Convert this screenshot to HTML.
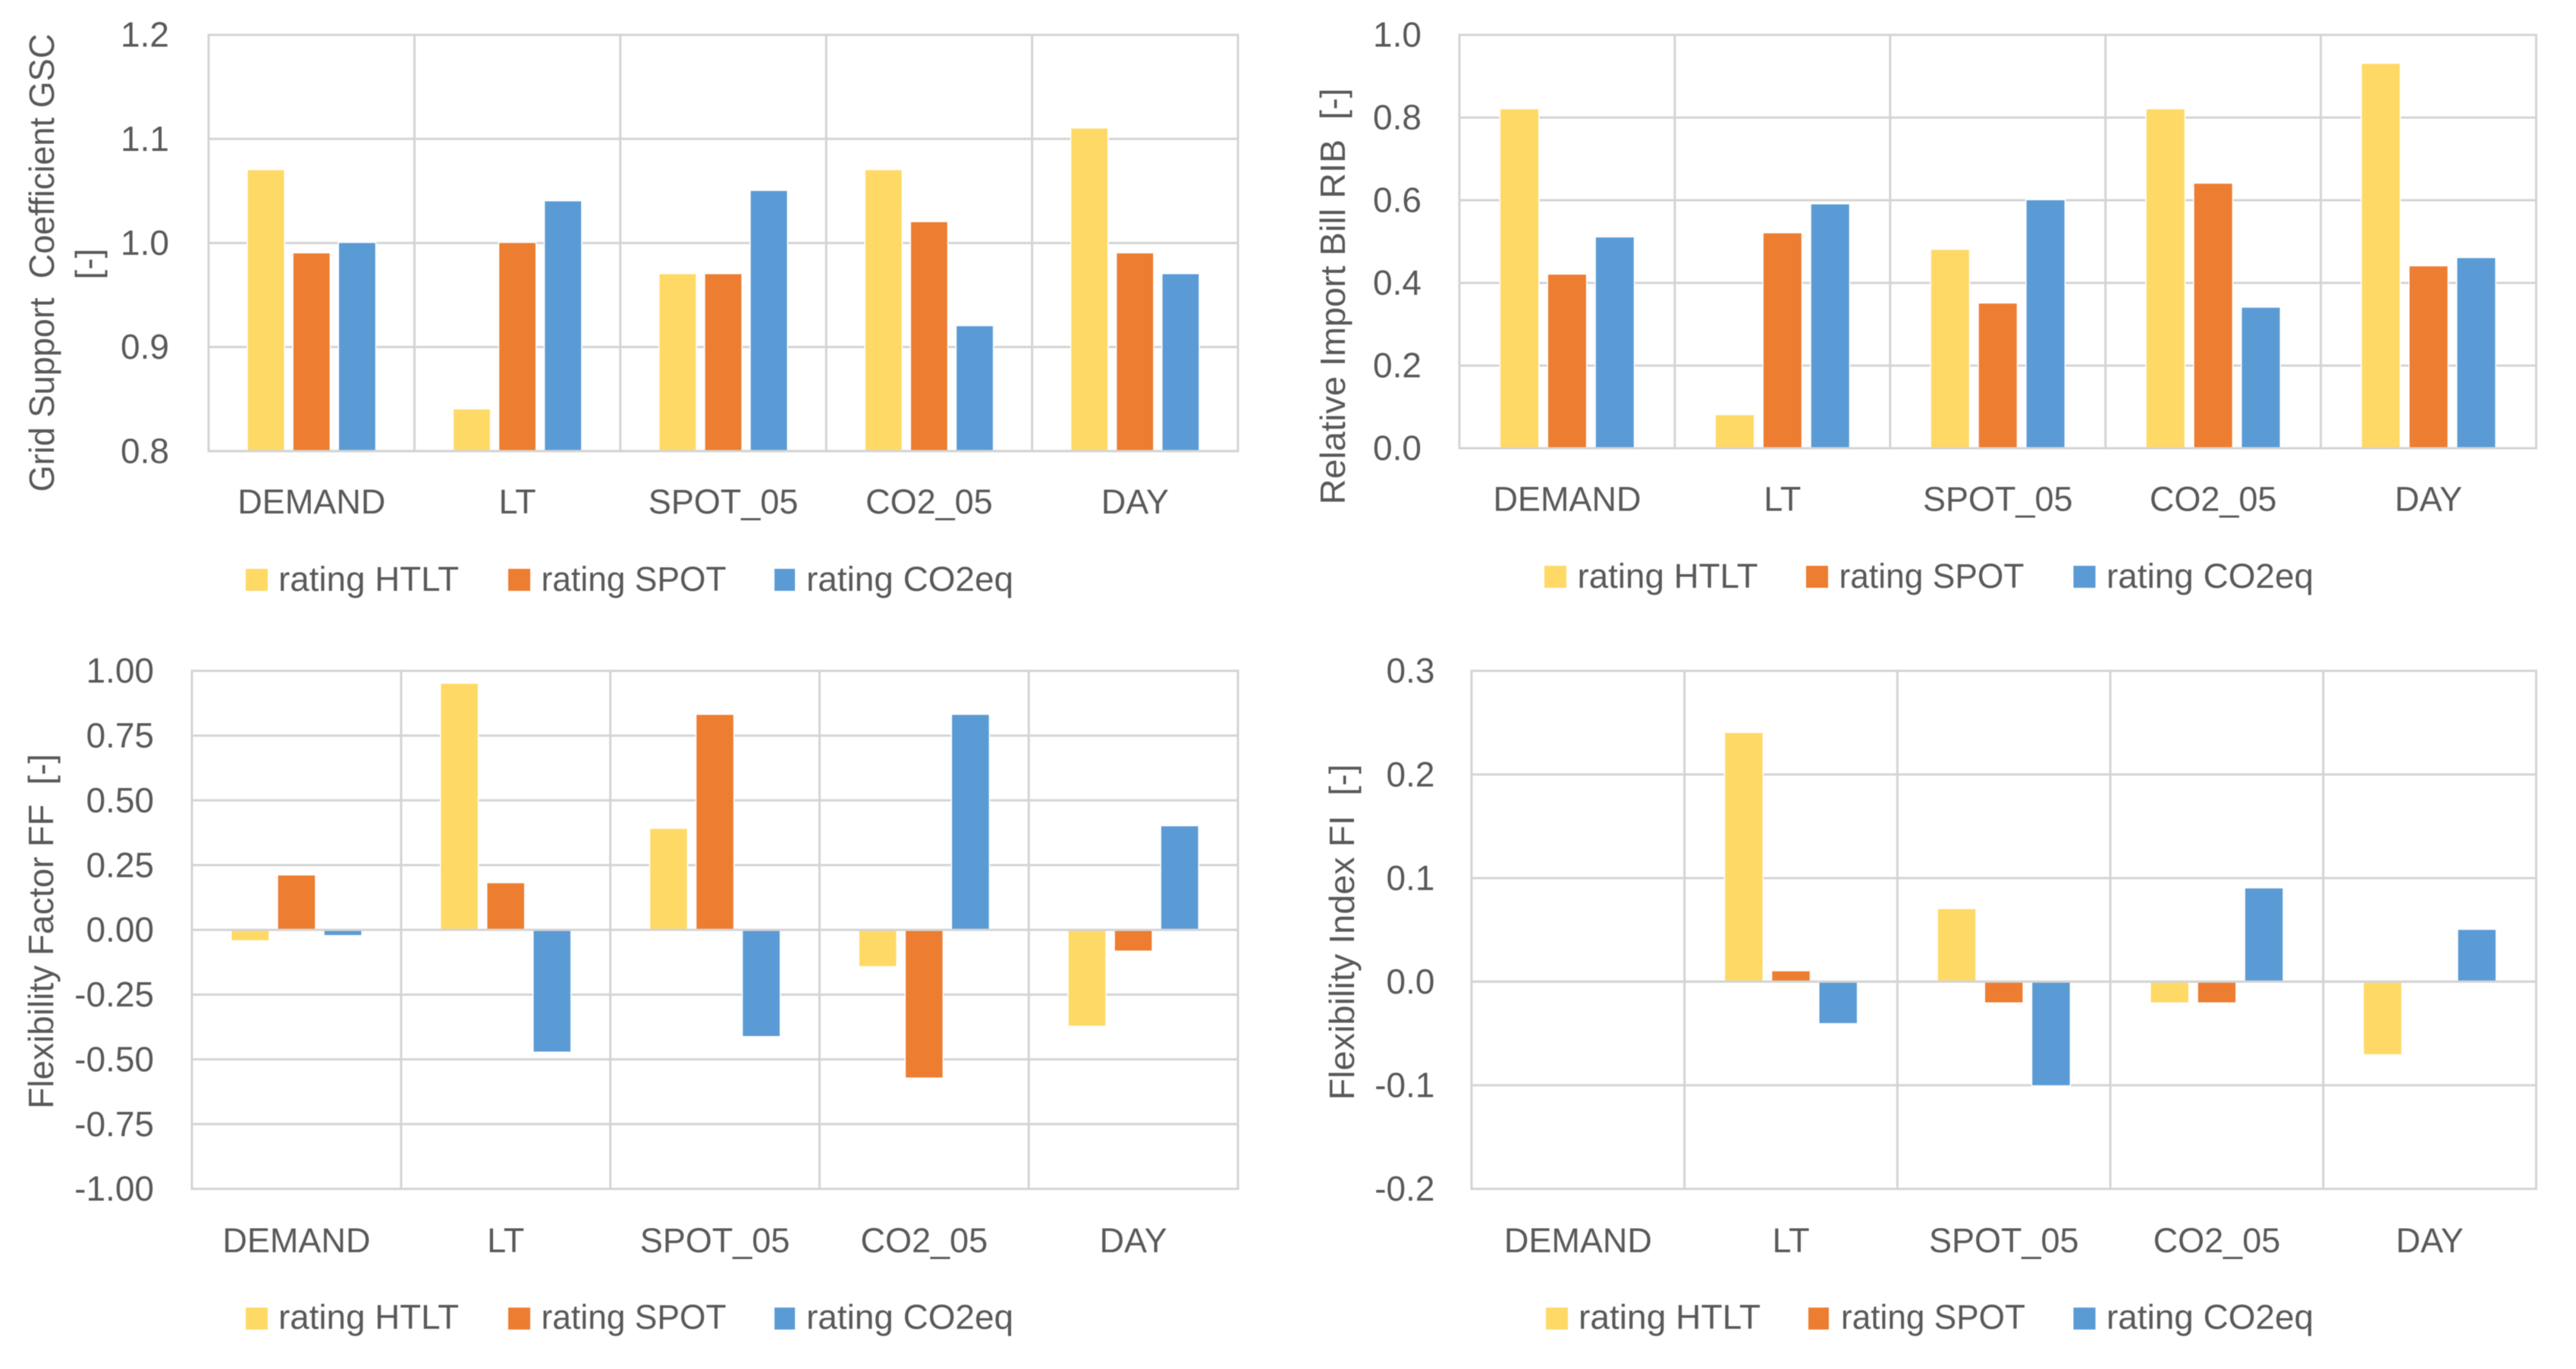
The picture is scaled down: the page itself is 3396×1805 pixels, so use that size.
<!DOCTYPE html>
<html lang="en">
<head>
<meta charset="utf-8">
<title>Rating comparison charts</title>
<style>
  html, body { margin: 0; padding: 0; background: #fff; }
  svg { display: block; filter: blur(0.6px); }
  text { font-family: "Liberation Sans", sans-serif; fill: #595959; white-space: pre; }
  .tick { font-size: 46px; }
  .cat { font-size: 45px; }
  .axis-title { font-size: 46px; }
  .legend-label { font-size: 45px; }
</style>
</head>
<body>
<svg id="figure" xmlns="http://www.w3.org/2000/svg" width="3396" height="1805" viewBox="0 0 3396 1805">
  <rect x="0" y="0" width="3396" height="1805" fill="#ffffff"/>

  <g id="panel-gsc">
    <text class="axis-title" transform="translate(71,346.5) rotate(-90)" text-anchor="middle" textLength="604" lengthAdjust="spacingAndGlyphs">Grid Support  Coefficient GSC</text>
    <text class="axis-title" transform="translate(132,348) rotate(-90)" text-anchor="middle">[-]</text>
    <g>
      <rect x="324" y="750" width="29" height="29" fill="#FFD966"/>
      <text class="legend-label" x="367" y="779" textLength="238" lengthAdjust="spacingAndGlyphs">rating HTLT</text>
      <rect x="670" y="750" width="29" height="29" fill="#ED7D31"/>
      <text class="legend-label" x="713.5" y="779" textLength="244" lengthAdjust="spacingAndGlyphs">rating SPOT</text>
      <rect x="1021" y="750" width="27" height="29" fill="#5B9BD5"/>
      <text class="legend-label" x="1063" y="779" textLength="273" lengthAdjust="spacingAndGlyphs">rating CO2eq</text>
    </g>
  </g>

  <g id="panel-rib">
    <text class="axis-title" transform="translate(1773,390.7) rotate(-90)" text-anchor="middle" textLength="549" lengthAdjust="spacingAndGlyphs">Relative Import Bill RIB  [-]</text>
    <g>
      <rect x="2036" y="746" width="29" height="29" fill="#FFD966"/>
      <text class="legend-label" x="2079.5" y="775" textLength="238" lengthAdjust="spacingAndGlyphs">rating HTLT</text>
      <rect x="2381" y="746" width="29" height="29" fill="#ED7D31"/>
      <text class="legend-label" x="2424.5" y="775" textLength="244" lengthAdjust="spacingAndGlyphs">rating SPOT</text>
      <rect x="2733.5" y="746" width="29" height="29" fill="#5B9BD5"/>
      <text class="legend-label" x="2777" y="775" textLength="273" lengthAdjust="spacingAndGlyphs">rating CO2eq</text>
    </g>
  </g>

  <g id="panel-ff">
    <text class="axis-title" transform="translate(70,1228) rotate(-90)" text-anchor="middle" textLength="468" lengthAdjust="spacingAndGlyphs">Flexibility Factor FF  [-]</text>
    <g>
      <rect x="324" y="1724" width="29" height="29" fill="#FFD966"/>
      <text class="legend-label" x="367" y="1752" textLength="238" lengthAdjust="spacingAndGlyphs">rating HTLT</text>
      <rect x="670" y="1724" width="29" height="29" fill="#ED7D31"/>
      <text class="legend-label" x="713.5" y="1752" textLength="244" lengthAdjust="spacingAndGlyphs">rating SPOT</text>
      <rect x="1021" y="1724" width="27" height="29" fill="#5B9BD5"/>
      <text class="legend-label" x="1063" y="1752" textLength="273" lengthAdjust="spacingAndGlyphs">rating CO2eq</text>
    </g>
  </g>

  <g id="panel-fi">
    <text class="axis-title" transform="translate(1785,1229) rotate(-90)" text-anchor="middle" textLength="443" lengthAdjust="spacingAndGlyphs">Flexibility Index FI  [-]</text>
    <g>
      <rect x="2038" y="1724" width="29" height="29" fill="#FFD966"/>
      <text class="legend-label" x="2081" y="1752" textLength="240" lengthAdjust="spacingAndGlyphs">rating HTLT</text>
      <rect x="2384" y="1724" width="27" height="29" fill="#ED7D31"/>
      <text class="legend-label" x="2427" y="1752" textLength="243" lengthAdjust="spacingAndGlyphs">rating SPOT</text>
      <rect x="2733.5" y="1724" width="29" height="29" fill="#5B9BD5"/>
      <text class="legend-label" x="2777" y="1752" textLength="273" lengthAdjust="spacingAndGlyphs">rating CO2eq</text>
    </g>
  </g>
</svg>

<script>
// Shared categories and series
const categories = ['DEMAND', 'LT', 'SPOT_05', 'CO2_05', 'DAY'];
const seriesKeys = ['htlt', 'spot', 'co2eq'];
const seriesColors = ['#FFD966', '#ED7D31', '#5B9BD5'];

// Grid Support Coefficient GSC
const gscTicks = ['0.8', '0.9', '1.0', '1.1', '1.2'];
const gscHtlt = [1.07, 0.84, 0.97, 1.07, 1.11];
const gscSpot = [0.99, 1.00, 0.97, 1.02, 0.99];
const gscCo2 = [1.00, 1.04, 1.05, 0.92, 0.97];

// Relative Import Bill RIB
const ribTicks = ['0.0', '0.2', '0.4', '0.6', '0.8', '1.0'];
const ribHtlt = [0.82, 0.08, 0.48, 0.82, 0.93];
const ribSpot = [0.42, 0.52, 0.35, 0.64, 0.44];
const ribCo2 = [0.51, 0.59, 0.60, 0.34, 0.46];

// Flexibility Factor FF
const ffTicks = ['-1.00', '-0.75', '-0.50', '-0.25', '0.00', '0.25', '0.50', '0.75', '1.00'];
const ffHtlt = [-0.04, 0.95, 0.39, -0.14, -0.37];
const ffSpot = [0.21, 0.18, 0.83, -0.57, -0.08];
const ffCo2 = [-0.02, -0.47, -0.41, 0.83, 0.40];

// Flexibility Index FI
const fiTicks = ['-0.2', '-0.1', '0.0', '0.1', '0.2', '0.3'];
const fiHtlt = [0, 0.24, 0.07, -0.02, -0.07];
const fiSpot = [0, 0.01, -0.02, -0.02, 0];
const fiCo2 = [0, -0.04, -0.10, 0.09, 0.05];

const SVG_NS = 'http://www.w3.org/2000/svg';
const GRID_COLOR = '#d4d4d4';
const GRID_WIDTH = 3;
const BAR_RATIO = 0.176;
const PITCH_RATIO = 0.2215;

function setProps(el, props) {
  Object.keys(props).forEach(function (k) { el.setAttribute(k, props[k]); });
  return el;
}

function drawLine(parent, x1, y1, x2, y2, name) {
  const el = document.createElementNS(SVG_NS, 'line');
  setProps(el, { x1: x1, y1: y1, x2: x2, y2: y2, stroke: GRID_COLOR, 'stroke-width': GRID_WIDTH, 'stroke-linecap': 'square' });
  
  
  parent.appendChild(el);
}

function drawText(parent, x, y, cls, anchor, content, name) {
  const el = document.createElementNS(SVG_NS, 'text');
  setProps(el, { x: x, y: y, class: cls, 'text-anchor': anchor });
  el.textContent = content;
  
  
  parent.appendChild(el);
}

function drawPanel(panelId, box, ticks, series) {
  const root = document.getElementById(panelId);
  const layer = document.createElementNS(SVG_NS, 'g');
  
  
  root.insertBefore(layer, root.firstChild);

  const tickValues = ticks.map(parseFloat);
  const yMin = Math.min.apply(null, tickValues);
  const yMax = Math.max.apply(null, tickValues);
  const yScale = function (v) { return box.bottom - (v - yMin) / (yMax - yMin) * (box.bottom - box.top); };
  const groupWidth = (box.right - box.left) / categories.length;
  const xBoundary = function (i) { return box.left + i * groupWidth; };
  const xCenter = function (i) { return box.left + (i + 0.5) * groupWidth; };
  const barWidth = groupWidth * BAR_RATIO;
  const pitch = groupWidth * PITCH_RATIO;
  const baseValue = Math.max(yMin, Math.min(yMax, 0));

  tickValues.forEach(function (v, i) {
    drawLine(layer, box.left, yScale(v), box.right, yScale(v), 'gridline-' + ticks[i]);
    drawText(layer, box.tickRight, yScale(v) + 15.7, 'tick', 'end', ticks[i], 'y-tick-' + ticks[i]);
  });

  for (let i = 0; i <= categories.length; i++) {
    drawLine(layer, xBoundary(i), box.top, xBoundary(i), box.bottom, 'category-divider-' + i);
  }

  categories.forEach(function (cat, c) {
    drawText(layer, xCenter(c), box.catBaseline, 'cat', 'middle', cat, 'x-label-' + cat.toLowerCase());
    series.forEach(function (values, s) {
      const v = values[c];
      if (v === 0) return;
      const y0 = yScale(baseValue);
      const y1 = yScale(v);
      const bar = document.createElementNS(SVG_NS, 'rect');
      setProps(bar, {
        x: xCenter(c) + (s - 1) * pitch - barWidth / 2,
        y: Math.min(y0, y1),
        width: barWidth,
        height: Math.abs(y1 - y0),
        fill: seriesColors[s],
        stroke: '#ffffff',
        'stroke-width': 3,
        'paint-order': 'stroke'
      });
      
      
      layer.appendChild(bar);
    });
  });

  drawLine(layer, box.left, yScale(baseValue), box.right, yScale(baseValue), 'baseline');
}

drawPanel('panel-gsc', { left: 275, right: 1632, top: 46, bottom: 594.7, tickRight: 223, catBaseline: 677 }, gscTicks, [gscHtlt, gscSpot, gscCo2]);
drawPanel('panel-rib', { left: 1924, right: 3343.5, top: 46, bottom: 591, tickRight: 1874, catBaseline: 673.6 }, ribTicks, [ribHtlt, ribSpot, ribCo2]);
drawPanel('panel-ff', { left: 253, right: 1632, top: 884.5, bottom: 1567.5, tickRight: 203, catBaseline: 1651 }, ffTicks, [ffHtlt, ffSpot, ffCo2]);
drawPanel('panel-fi', { left: 1940, right: 3343.5, top: 884.5, bottom: 1567.5, tickRight: 1891.5, catBaseline: 1651 }, fiTicks, [fiHtlt, fiSpot, fiCo2]);
</script>
</body>
</html>
